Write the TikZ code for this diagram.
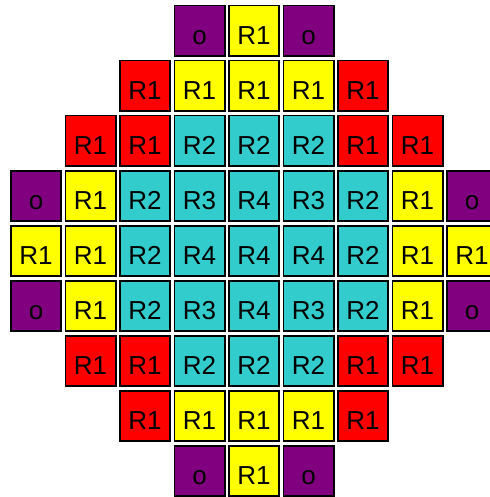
\documentclass[tikz,border=0pt]{standalone}
\usepackage{fontspec}
\setmainfont{Liberation Sans}
\definecolor{pur}{HTML}{800080}
\definecolor{yel}{HTML}{FFFF00}
\definecolor{rd}{HTML}{FF0000}
\definecolor{cy}{HTML}{33CCCC}
\begin{document}
\begin{tikzpicture}[x=1pt,y=-1pt,
  cell/.style={draw=black, line width=1.8pt, minimum width=50.2pt, minimum height=50.2pt, inner sep=0pt, outer sep=0pt},
  lbl/.style={anchor=base, font=\fontsize{26}{26}\selectfont, inner sep=0pt, text=black}]
\useasboundingbox (0,0) rectangle (489,497);
% row/column/fill/text of every assembly
\foreach \r/\c/\col/\t in {
  0/3/pur/o, 0/4/yel/R1, 0/5/pur/o,
  1/2/rd/R1, 1/3/yel/R1, 1/4/yel/R1, 1/5/yel/R1, 1/6/rd/R1,
  2/1/rd/R1, 2/2/rd/R1, 2/3/cy/R2, 2/4/cy/R2, 2/5/cy/R2, 2/6/rd/R1, 2/7/rd/R1,
  3/0/pur/o, 3/1/yel/R1, 3/2/cy/R2, 3/3/cy/R3, 3/4/cy/R4, 3/5/cy/R3, 3/6/cy/R2, 3/7/yel/R1, 3/8/pur/o,
  4/0/yel/R1, 4/1/yel/R1, 4/2/cy/R2, 4/3/cy/R4, 4/4/cy/R4, 4/5/cy/R4, 4/6/cy/R2, 4/7/yel/R1, 4/8/yel/R1,
  5/0/pur/o, 5/1/yel/R1, 5/2/cy/R2, 5/3/cy/R3, 5/4/cy/R4, 5/5/cy/R3, 5/6/cy/R2, 5/7/yel/R1, 5/8/pur/o,
  6/1/rd/R1, 6/2/rd/R1, 6/3/cy/R2, 6/4/cy/R2, 6/5/cy/R2, 6/6/rd/R1, 6/7/rd/R1,
  7/2/rd/R1, 7/3/yel/R1, 7/4/yel/R1, 7/5/yel/R1, 7/6/rd/R1,
  8/3/pur/o, 8/4/yel/R1, 8/5/pur/o}{
  \node[cell, fill=\col] (c\r\c) at ({36+54.5*\c},{30.7+55*\r}) {};
  \node[lbl] (t\r\c) at ([yshift=11pt]c\r\c.south) {\t};
}
\end{tikzpicture}
\end{document}
